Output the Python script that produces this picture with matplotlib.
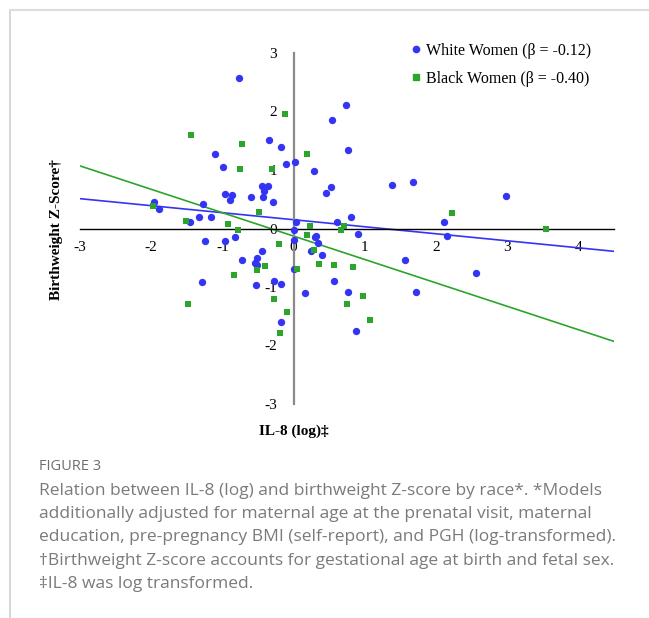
import matplotlib
matplotlib.use("Agg")
import matplotlib.pyplot as plt
from matplotlib.lines import Line2D
import numpy as np

plt.rcParams['axes.unicode_minus'] = False

# ---- data ----
white_x = [-0.77, -0.34, -0.18, -1.10, -0.99, -0.10, 0.02, -0.45, -0.36, -0.41,
           -0.96, -0.87, -0.89, -0.60, -0.43, -0.29, -1.27, -1.96, -1.89, -1.33,
           -1.16, -1.46, 0.04, 0.01, -1.24, -0.96, -0.83, 0.01, -0.45, -0.51,
           -0.72, -0.54, -0.52, 0.00, -1.28, -0.53, -0.28, -0.17, -0.18,
           0.74, 0.54, 0.77, 0.28, 0.53, 0.46, 1.38, 1.68, 0.80, 2.11, 0.61,
           0.90, 2.16, 0.30, 0.32, 0.34, 0.24, 0.40, 1.57, 2.56, 0.57, 0.16,
           0.77, 1.72, 0.87, 2.99]
white_y = [2.57, 1.51, 1.40, 1.28, 1.05, 1.10, 1.13, 0.72, 0.72, 0.64,
           0.59, 0.57, 0.49, 0.53, 0.53, 0.46, 0.42, 0.46, 0.34, 0.19,
           0.19, 0.11, 0.11, -0.03, -0.21, -0.21, -0.14, -0.19, -0.38, -0.50,
           -0.54, -0.59, -0.62, -0.70, -0.92, -0.96, -0.90, -0.95, -1.59,
           2.11, 1.85, 1.34, 0.98, 0.71, 0.60, 0.75, 0.80, 0.20, 0.11, 0.11,
           -0.09, -0.12, -0.14, -0.12, -0.24, -0.38, -0.45, -0.54, -0.76, -0.90, -1.10,
           -1.08, -1.08, -1.75, 0.55]

black_x = [-0.12, -1.44, -0.72, -0.75, -0.31, -1.98, -0.49, -1.51, -0.92, -0.78,
           -0.20, -0.40, -0.51, -0.84, 0.05, -0.28, -1.49, -0.09, -0.19,
           0.19, 2.22, 0.23, 0.71, 0.67, 0.19, 0.29, 0.36, 0.57, 0.84,
           0.97, 0.75, 1.08, 3.55]
black_y = [1.95, 1.60, 1.45, 1.02, 1.02, 0.39, 0.29, 0.13, 0.08, -0.03,
           -0.27, -0.64, -0.71, -0.80, -0.69, -1.21, -1.29, -1.42, -1.79,
           1.27, 0.27, 0.04, 0.04, -0.03, -0.11, -0.37, -0.61, -0.63, -0.66,
           -1.15, -1.29, -1.57, 0.00]

white_beta, white_icpt = -0.12, 0.15
black_beta, black_icpt = -0.40, -0.13
white_label = "White Women (β = -0.12)"
black_label = "Black Women (β = -0.40)"
xticks = [-3, -2, -1, 0, 1, 2, 3, 4]
yticks = [-3, -2, -1, 0, 1, 2, 3]
caption_title = "FIGURE 3"
caption_lines = [
    "Relation between IL-8 (log) and birthweight Z-score by race*. *Models",
    "additionally adjusted for maternal age at the prenatal visit, maternal",
    "education, pre-pregnancy BMI (self-report), and PGH (log-transformed).",
    "\u2020Birthweight Z-score accounts for gestational age at birth and fetal sex.",
    "\u2021IL-8 was log transformed.",
]

BLUE = '#3434f5'
GREEN = '#2ba52b'
SERIF = 'Liberation Serif'

W, H = 649, 618
fig = plt.figure(figsize=(W/100, H/100), dpi=100)
ax = fig.add_axes([80/W, 1-404/H, (614-80)/W, (404-53)/H])

xmin, xmax = -3, 4.5
ax.set_xlim(xmin, xmax)
ax.set_ylim(-3, 3)

xl = np.array([xmin, xmax])
ax.plot(xl, white_icpt + white_beta*xl, color=BLUE, lw=1.2, zorder=2)
ax.plot(xl, black_icpt + black_beta*xl, color=GREEN, lw=1.2, zorder=2)

ax.scatter(white_x, white_y, s=28, marker='o', color=BLUE, linewidths=0, zorder=3)
ax.scatter(black_x, black_y, s=25, marker='s', color=GREEN, linewidths=0, zorder=3)

for s in ['top', 'right']:
    ax.spines[s].set_visible(False)
ax.spines['left'].set_position(('data', 0))
ax.spines['bottom'].set_position(('data', 0))
ax.spines['left'].set_color('#8a8a8a')
ax.spines['left'].set_linewidth(1.6)
ax.spines['bottom'].set_color('black')
ax.spines['bottom'].set_linewidth(1.0)
ax.set_xticks(xticks)
ax.set_yticks(yticks)
ax.set_xticklabels([str(t) for t in xticks], fontfamily=SERIF, fontsize=11)
ax.set_yticklabels([str(t) for t in yticks], fontfamily=SERIF, fontsize=11)
ax.tick_params(axis='x', length=0, pad=9)
ax.tick_params(axis='y', length=0, pad=12)
ax.patch.set_visible(False)

# legend
handles = [Line2D([], [], marker='o', color=BLUE, linestyle='none', markersize=4.5),
           Line2D([], [], marker='s', color=GREEN, linestyle='none', markersize=4.5)]
leg = fig.legend(handles, [white_label, black_label], loc='upper left',
                 bbox_to_anchor=(403/W, 1-35/H), frameon=False,
                 prop={'family': SERIF, 'size': 11.5}, handlelength=0.6,
                 handletextpad=0.35, labelspacing=0.75, borderpad=0)

fig.text(57/W, 1-230/H, "Birthweight Z-Score\u2020", rotation=90, ha='center', va='center',
         fontfamily=SERIF, fontweight='bold', fontsize=11)
fig.text(294/W, 1-431/H, "IL-8 (log)\u2021", ha='center', va='center',
         fontfamily=SERIF, fontweight='bold', fontsize=11)

# caption
CAP = '#7a7a7a'
fig.text(39/W, 1-466/H, caption_title, ha='left', va='center', fontfamily='Open Sans',
         fontsize=10.5, color='#6e6e6e')
for i, line in enumerate(caption_lines):
    fig.text(39/W, 1-(491 + i*23.2)/H, line, ha='left', va='center',
             fontfamily='Open Sans', fontsize=12.55, color=CAP)

# card border (top and left)
fig.add_artist(Line2D([9.5/W, 9.5/W], [0, 1-9.5/H], transform=fig.transFigure,
                      color='#cfcfcf', lw=1.2))
fig.add_artist(Line2D([9.5/W, 1], [1-9.5/H, 1-9.5/H], transform=fig.transFigure,
                      color='#dcdcdc', lw=1.5))

fig.savefig('out.png', dpi=100)
